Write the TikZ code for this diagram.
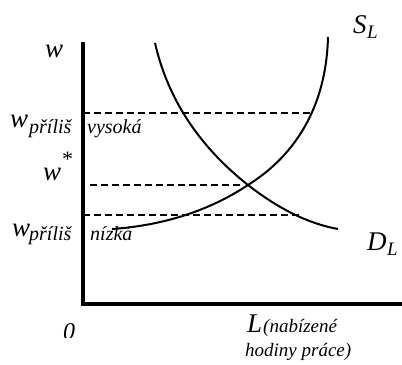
\documentclass[tikz,border=0pt]{standalone}
\usepackage{fontspec}
\setmainfont{Liberation Serif}
\begin{document}
\begin{tikzpicture}[x=1bp,y=-1bp,
  axisline/.style={line width=3.5bp},
  curveline/.style={line width=2bp},
  guide/.style={line width=1.2bp, dash pattern=on 7bp off 4bp},
  big/.style={inner sep=0pt, anchor=base west, font=\fontsize{27bp}{29bp}\selectfont\itshape},
  sub/.style={inner sep=0pt, anchor=base west, font=\fontsize{20bp}{22bp}\selectfont\itshape},
  small/.style={inner sep=0pt, anchor=base west, font=\fontsize{19bp}{21bp}\selectfont\itshape}]
\useasboundingbox (0,0) rectangle (402,365);
% axes
\coordinate (top) at (83,42);
\coordinate (origin) at (83,304);
\coordinate (right) at (404,304);
\draw[axisline] (top) -- (origin) -- (right);
% curves
\coordinate (sA) at (112,229);
\coordinate (eq) at (248,185);
\coordinate (sB) at (328,37);
\coordinate (dA) at (155,43);
\coordinate (dB) at (338,229);
\draw[curveline] (sA) .. controls (170,225) and (215,207) .. (eq)
  .. controls (288,160) and (326,115) .. (sB);
\draw[curveline] (dA) .. controls (168,100) and (200,147) .. (eq)
  .. controls (280,210) and (310,224) .. (dB);
% dashed guides
\coordinate (h1a) at (83,113); \coordinate (h1b) at (310,113);
\coordinate (h2a) at (90,185); \coordinate (h2b) at (240,185);
\coordinate (h3a) at (83,215); \coordinate (h3b) at (300,215);
\draw[guide] (h1a) -- (h1b);
\draw[guide] (h2a) -- (h2b);
\draw[guide] (h3a) -- (h3b);
% labels
\node[big] (wtop) at (45,57) {w};
\node[big] (whi) at (10,127) {w};
\node[sub] (hi1) at (29,133) {příliš};
\node[sub] (hi2) at (87,133) {vysoká};
\node[big] (wstar) at (43,180) {w};
\node[inner sep=0pt, anchor=base west, font=\fontsize{22bp}{24bp}\selectfont] (star) at (62,166) {*};
\node[big] (wlo) at (12,236) {w};
\node[sub] (lo1) at (29,240) {příliš};
\node[sub] (lo2) at (90,240) {nízká};
\begin{scope}
\clip (50,300) rectangle (100,337);
\node[inner sep=0pt, anchor=base west, font=\fontsize{24bp}{26bp}\selectfont\itshape] (zero) at (63,339) {0};
\end{scope}
\node[big] (Llab) at (247,332) {L};
\node[small] (Ltxt1) at (263,332) {(nabízené};
\node[small] (Ltxt2) at (245,356) {hodiny práce)};
\node[big] (S) at (353,33) {S};
\node[small] (Ssub) at (367,38) {L};
\node[big] (D) at (367,250) {D};
\node[small] (Dsub) at (387,255) {L};
\end{tikzpicture}
\end{document}
